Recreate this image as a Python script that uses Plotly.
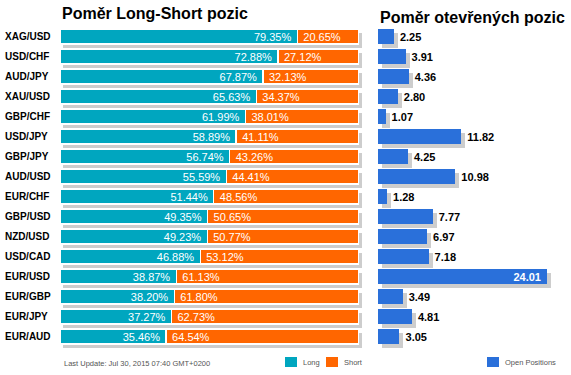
import plotly.graph_objects as go

pairs = ["XAG/USD", "USD/CHF", "AUD/JPY", "XAU/USD", "GBP/CHF", "USD/JPY", "GBP/JPY", "AUD/USD",
         "EUR/CHF", "GBP/USD", "NZD/USD", "USD/CAD", "EUR/USD", "EUR/GBP", "EUR/JPY", "EUR/AUD"]
long_pct = [79.35, 72.88, 67.87, 65.63, 61.99, 58.89, 56.74, 55.59, 51.44, 49.35, 49.23, 46.88, 38.87, 38.20, 37.27, 35.46]
short_pct = [20.65, 27.12, 32.13, 34.37, 38.01, 41.11, 43.26, 44.41, 48.56, 50.65, 50.77, 53.12, 61.13, 61.80, 62.73, 64.54]
open_pos = [2.25, 3.91, 4.36, 2.80, 1.07, 11.82, 4.25, 10.98, 1.28, 7.77, 6.97, 7.18, 24.01, 3.49, 4.81, 3.05]

W, H = 571, 375
TEAL = "#00A6BF"
ORANGE = "#FF6600"
BLUE = "#2A70DA"
SHADOW = "#CDCDCD"
FONT = "Liberation Sans, Arial, sans-serif"
NB = "\u00a0"

def px(x):
    return x / W

def py(y):
    return 1 - y / H

# plot areas (pixels)
L_X0, L_X1 = 60, 359
R_X0, R_X1 = 378, 547
Y_TOP, Y_BOT = 26.5, 346.5
SH_L, SH_R, SH_D = 3, 4, 4

totals = [a + b for a, b in zip(long_pct, short_pct)]
vmax = max(open_pos)

fig = go.Figure()

# shadows (drawn first, on subplots xy and x2y2)
fig.add_trace(go.Bar(y=pairs, x=totals, orientation="h", width=0.75,
                     marker=dict(color=SHADOW, line=dict(width=0)),
                     xaxis="x", yaxis="y", hoverinfo="skip", showlegend=False))
fig.add_trace(go.Bar(y=pairs, x=open_pos, orientation="h", width=0.75,
                     marker=dict(color=SHADOW, line=dict(width=0)),
                     xaxis="x2", yaxis="y2", hoverinfo="skip", showlegend=False))

# main left bars
fig.add_trace(go.Bar(y=pairs, x=long_pct, orientation="h", width=0.75, name="Long",
                     marker=dict(color=TEAL, line=dict(color="white", width=1.2)),
                     text=[f"{v:.2f}%{NB}" for v in long_pct], textposition="inside",
                     insidetextanchor="end", constraintext="none",
                     insidetextfont=dict(family=FONT, size=11, color="white"),
                     xaxis="x3", yaxis="y3", showlegend=False))
fig.add_trace(go.Bar(y=pairs, x=short_pct, orientation="h", width=0.75, name="Short",
                     marker=dict(color=ORANGE, line=dict(color="white", width=1.2)),
                     text=[f"{NB}{v:.2f}%" for v in short_pct], textposition="inside",
                     insidetextanchor="start", constraintext="none",
                     insidetextfont=dict(family=FONT, size=11, color="white"),
                     xaxis="x3", yaxis="y3", showlegend=False))

# main right bars
r_text = [f"{v:.2f}{NB}" if v == vmax else f"{NB}{v:.2f}" for v in open_pos]
r_pos = ["inside" if v == vmax else "outside" for v in open_pos]
fig.add_trace(go.Bar(y=pairs, x=open_pos, orientation="h", width=0.75, name="Open Positions",
                     marker=dict(color=BLUE, line=dict(width=0)),
                     text=r_text, textposition=r_pos, insidetextanchor="end",
                     constraintext="none", cliponaxis=False,
                     insidetextfont=dict(family=FONT, size=11, color="white", weight="bold"),
                     outsidetextfont=dict(family=FONT, size=11, color="#000000", weight="bold"),
                     xaxis="x4", yaxis="y4", showlegend=False))

hidden = dict(showgrid=False, zeroline=False, showticklabels=False, showline=False, ticks="", fixedrange=True)
ycat = dict(hidden, type="category", categoryorder="array", categoryarray=pairs,
            autorange="reversed")

fig.update_layout(
    width=W, height=H,
    margin=dict(l=0, r=0, t=0, b=0),
    paper_bgcolor="white", plot_bgcolor="rgba(0,0,0,0)",
    barmode="stack", bargap=0.25,
    font=dict(family=FONT, color="#000000"),
    xaxis=dict(hidden, range=[0, 100], domain=[px(L_X0 + SH_L), px(L_X1 + SH_L)]),
    yaxis=dict(ycat, domain=[py(Y_BOT + SH_D), py(Y_TOP + SH_D)], anchor="x"),
    xaxis2=dict(hidden, range=[0, vmax], domain=[px(R_X0 + SH_R), px(R_X1 + SH_R)]),
    yaxis2=dict(ycat, domain=[py(Y_BOT + SH_D), py(Y_TOP + SH_D)], anchor="x2"),
    xaxis3=dict(hidden, range=[0, 100], domain=[px(L_X0), px(L_X1)]),
    yaxis3=dict(ycat, domain=[py(Y_BOT), py(Y_TOP)], anchor="x3"),
    xaxis4=dict(hidden, range=[0, vmax], domain=[px(R_X0), px(R_X1)]),
    yaxis4=dict(ycat, domain=[py(Y_BOT), py(Y_TOP)], anchor="x4"),
    showlegend=False,
    hovermode=False,
)

ann = []
# category labels, left aligned
for p in pairs:
    ann.append(dict(x=px(3), xref="paper", y=p, yref="y3", text=p, showarrow=False,
                    xanchor="left", yanchor="middle",
                    font=dict(family=FONT, size=10, color="#000000", weight="bold")))
# titles
ann.append(dict(x=px(155), y=py(14), xref="paper", yref="paper", text="Poměr Long-Short pozic",
                showarrow=False, xanchor="center", yanchor="middle",
                font=dict(family=FONT, size=16, color="#000000", weight="bold")))
ann.append(dict(x=px(378), y=py(17), xref="paper", yref="paper", text="Poměr otevřených pozic",
                showarrow=False, xanchor="left", yanchor="middle",
                font=dict(family=FONT, size=16, color="#000000", weight="bold")))
# footer
foot = dict(family=FONT, size=7.5, color="#555555")
ann.append(dict(x=px(62), y=py(363), xref="paper", yref="paper",
                text="Last Update: Jul 30, 2015 07:40 GMT+0200", showarrow=False,
                xanchor="left", yanchor="middle", font=foot))
legend_items = [("Long", TEAL, 285), ("Short", ORANGE, 326), ("Open Positions", BLUE, 487)]
shapes = []
for name, col, x0 in legend_items:
    shapes.append(dict(type="rect", xref="paper", yref="paper", x0=px(x0), x1=px(x0 + 12),
                       y0=py(367), y1=py(357), fillcolor=col, line=dict(width=0)))
    ann.append(dict(x=px(x0 + 16), y=py(362), xref="paper", yref="paper", text=name,
                    showarrow=False, xanchor="left", yanchor="middle", font=foot))

fig.update_layout(annotations=ann, shapes=shapes)
fig.write_html("out.html", config={"displayModeBar": False, "staticPlot": True},
               post_script="document.body.style.margin='0';document.body.style.overflow='hidden';")
